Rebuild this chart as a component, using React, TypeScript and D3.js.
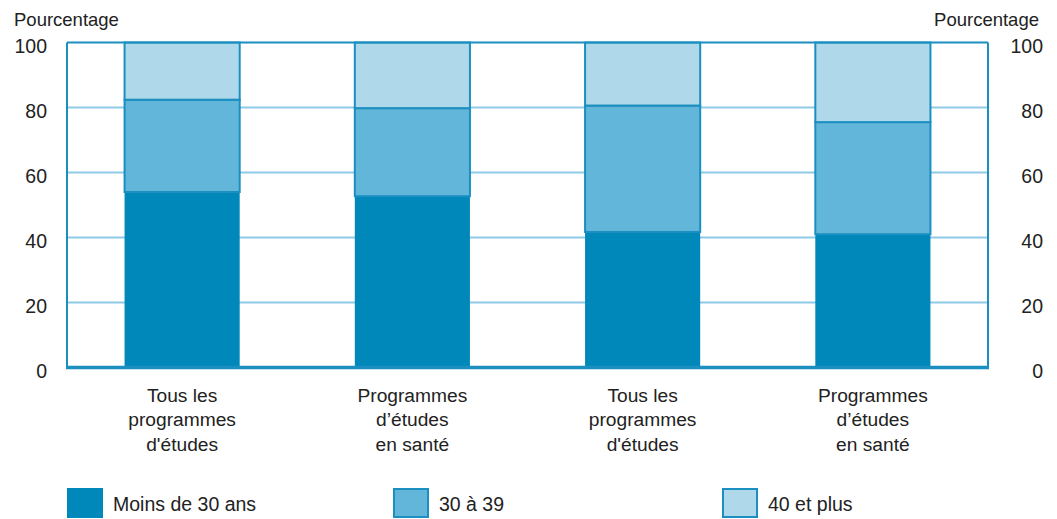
import React from "react";
import * as d3 from "d3";

const categories = [
  ["Tous les", "programmes", "d'études"],
  ["Programmes", "d’études", "en santé"],
  ["Tous les", "programmes", "d'études"],
  ["Programmes", "d’études", "en santé"],
];
const seriesNames = ["Moins de 30 ans", "30 à 39", "40 et plus"];
const under30 = [54.0, 52.7, 41.7, 41.0];
const age30to39 = [28.4, 27.1, 38.9, 34.5];
const age40plus = [17.6, 20.2, 19.4, 24.5];
const yTicks = [0, 20, 40, 60, 80, 100];

const W = 1057;
const H = 519;
const left = 67;
const right = 988;
const top = 42.5;
const bottom = 367.5;

const colors = ["#0088bb", "#62b6da", "#b0d8eb"];
const frameColor = "#1a8fc0";
const gridColor = "#8ecae6";
const textColor = "#222";
const font = "'Liberation Sans', Arial, sans-serif";

export default function App() {
  const x = d3
    .scaleBand<number>()
    .domain(d3.range(categories.length))
    .range([left, right])
    .paddingInner(0.5)
    .paddingOuter(0.25);
  const y = d3.scaleLinear().domain([0, 100]).range([bottom, top]);

  const rows = d3.range(categories.length).map((i) => ({
    i,
    a: under30[i],
    b: age30to39[i],
    c: age40plus[i],
  }));
  const stack = d3.stack<any>().keys(["a", "b", "c"])(rows);

  const legendX = [67, 393, 722];

  return (
    <div style={{ position: "fixed", left: 0, top: 0 }}>
      <svg width={W} height={H} style={{ display: "block", background: "#fff" }}>
        {/* gridlines */}
        {yTicks
          .filter((t) => t > 0 && t < 100)
          .map((t) => (
            <line key={t} x1={left} x2={right} y1={y(t)} y2={y(t)} stroke={gridColor} strokeWidth={2} />
          ))}
        {/* bars */}
        {stack.map((layer, li) =>
          layer.map((d, i) => (
            <rect
              key={li + "-" + i}
              x={x(i)!}
              width={x.bandwidth()}
              y={y(d[1])}
              height={y(d[0]) - y(d[1])}
              fill={colors[li]}
              stroke={li === 0 ? colors[0] : frameColor}
              strokeWidth={li === 0 ? 0 : 2}
            />
          ))
        )}
        {/* frame */}
        <line x1={left} x2={right} y1={top} y2={top} stroke={frameColor} strokeWidth={2} />
        <line x1={left} x2={left} y1={top} y2={bottom} stroke={frameColor} strokeWidth={2} />
        <line x1={right} x2={right} y1={top} y2={bottom} stroke={frameColor} strokeWidth={2} />
        <line x1={left - 1} x2={right + 1} y1={bottom} y2={bottom} stroke={frameColor} strokeWidth={3.5} />
        {/* y tick labels */}
        {yTicks.map((t) => (
          <g key={t} fontFamily={font} fontSize={19.5} fill={textColor}>
            <text x={47} y={y(t) + 10} textAnchor="end">
              {t}
            </text>
            <text x={1043} y={y(t) + 10} textAnchor="end">
              {t}
            </text>
          </g>
        ))}
        <text x={14} y={26} fontFamily={font} fontSize={18.5} fill={textColor}>
          Pourcentage
        </text>
        <text x={1039} y={26} fontFamily={font} fontSize={18.5} fill={textColor} textAnchor="end">
          Pourcentage
        </text>
        {/* category labels */}
        {categories.map((lines, i) => (
          <text
            key={i}
            x={x(i)! + x.bandwidth() / 2}
            textAnchor="middle"
            fontFamily={font}
            fontSize={19.2}
            fill={textColor}
          >
            {lines.map((l, k) => (
              <tspan key={k} x={x(i)! + x.bandwidth() / 2} y={401.5 + k * 24.5}>
                {l}
              </tspan>
            ))}
          </text>
        ))}
        {/* legend */}
        {seriesNames.map((s, i) => (
          <g key={s}>
            <rect
              x={legendX[i] + (i === 0 ? 0 : 1)}
              y={i === 0 ? 488 : 489}
              width={i === 0 ? 36 : 34}
              height={i === 0 ? 30 : 28}
              fill={colors[i]}
              stroke={i === 0 ? "none" : frameColor}
              strokeWidth={2}
            />
            <text x={legendX[i] + 46} y={511} fontFamily={font} fontSize={19.5} fill={textColor}>
              {s}
            </text>
          </g>
        ))}
      </svg>
    </div>
  );
}
